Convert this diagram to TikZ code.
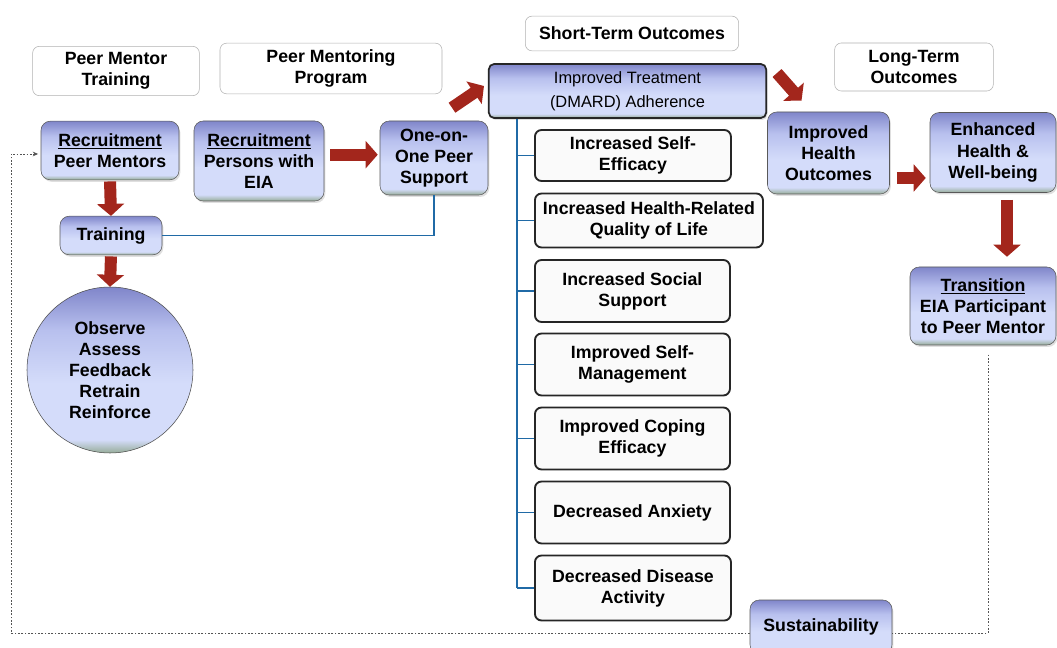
\documentclass[tikz,border=0pt]{standalone}
\usepackage{fontspec}
\setmainfont{Liberation Sans}
\usetikzlibrary{arrows.meta,shadows}

\definecolor{arrowred}{RGB}{163,38,28}
\definecolor{boxtop}{RGB}{128,134,202}
\definecolor{boxmid}{RGB}{184,192,238}
\definecolor{boxlight}{RGB}{212,220,250}
\definecolor{boxbot}{RGB}{150,172,152}
\definecolor{tieblue}{RGB}{32,106,166}
\pgfdeclareverticalshading{boxshade}{100bp}{color(0bp)=(boxbot); color(25bp)=(boxbot); color(29bp)=(boxlight); color(46bp)=(boxlight); color(62bp)=(boxmid); color(75bp)=(boxtop); color(100bp)=(boxtop)}

\newcommand{\boxfont}{\fontsize{13.3}{15.8}\selectfont\bfseries}

\tikzset{
  hdr/.style={draw=gray!60, rounded corners=5pt, fill=white, align=center, font=\boxfont, inner sep=1pt},
  shadebox/.style={draw=gray!70!black, rounded corners=7pt, shading=boxshade, align=center, font=\boxfont, inner sep=1pt,
    drop shadow={opacity=0.25,shadow xshift=1pt,shadow yshift=-1.5pt}},
  outbox/.style={draw=black!85, line width=1.4pt, rounded corners=5pt, fill=gray!4, align=center, font=\boxfont, inner sep=1pt},
  bigarrow/.style={draw=arrowred, line width=9pt, -{Triangle[length=9pt,width=20pt]}},
  tieline/.style={draw=tieblue, line width=1.2pt},
  returnline/.style={draw=gray!65!black, line width=0.6pt, dash pattern=on 1.2pt off 1.3pt},
}

\begin{document}
\begin{tikzpicture}[x=0.75pt,y=-0.75pt]
\clip (0,0) rectangle (1057,648);
\fill[white] (0,0) rectangle (1057,648);

% column headings
\node[hdr, minimum width=125pt, minimum height=37pt] (hdrTrain) at (116,71) {Peer Mentor\\Training};
\node[hdr, minimum width=166.5pt, minimum height=38pt] (hdrProg) at (331,68.5) {Peer Mentoring\\Program};
\node[hdr, minimum width=160pt, minimum height=26pt] (hdrShort) at (632,33.5) {Short-Term Outcomes};
\node[hdr, minimum width=119pt, minimum height=36pt] (hdrLong) at (914,67) {Long-Term\\Outcomes};

% training column
\node[shadebox, minimum width=103.5pt, minimum height=44pt] (RecMentor) at (110,150.5) {\underline{Recruitment}\\Peer Mentors};
\node[shadebox, minimum width=76.5pt, minimum height=29pt] (Train) at (111,235.5) {Training};
\node[circle, draw=gray!60!black, shading=boxshade, minimum size=124.5pt, align=center, font=\boxfont, inner sep=0pt] (Cycle) at (110,370) {Observe\\Assess\\Feedback\\Retrain\\Reinforce};

% program column
\node[shadebox, minimum width=97.5pt, minimum height=60pt] (RecPerson) at (259,161) {\underline{Recruitment}\\Persons with\\EIA};
\node[shadebox, minimum width=81pt, minimum height=55.5pt] (OnePeer) at (434,158) {One-on-\\One Peer\\Support};
\draw[tieline] (Train.east) -- (Train.east -| OnePeer.south) -- (OnePeer.south);

% short-term outcomes
\node[shadebox, draw=black!85, line width=1.3pt, rounded corners=4pt, minimum width=208pt, minimum height=40.5pt,
  font=\fontsize{12.3}{18}\selectfont] (Adher) at (627.5,91) {Improved Treatment\\(DMARD) Adherence};
\foreach \n/\cy/\w/\h/\txt in {1/155.5/196/51/{Increased Self-\\Efficacy},
  2/220.5/228/54/{Increased Health-Related\\Quality of Life},
  3/291/195/62/{Increased Social\\Support},
  4/364.5/195/62/{Improved Self-\\Management},
  5/438.5/195/62/{Improved Coping\\Efficacy},
  6/512.5/195/62/{Decreased Anxiety},
  7/588/196/65/{Decreased Disease\\Activity}}
{
  \coordinate (tie\n) at (517,\cy);
  \node[outbox, anchor=west, minimum width=\w*0.75pt, minimum height=\h*0.75pt] (Outc\n) at (534,\cy) {\txt};
  \draw[tieline] (tie\n) -- (Outc\n.west);
}
\draw[tieline] (Adher.south -| tie1) -- (tie7);

% long-term outcomes
\node[shadebox, minimum width=91.5pt, minimum height=61.5pt] (Health) at (828.5,153) {Improved\\Health\\Outcomes};
\node[shadebox, minimum width=94.5pt, minimum height=60pt] (Wellbeing) at (993,152.5) {Enhanced\\Health \&\\Well-being};
\node[shadebox, minimum width=109.5pt, minimum height=58.5pt] (Transit) at (983,306) {\underline{Transition}\\EIA Participant\\to Peer Mentor};
\node[shadebox, minimum width=106.5pt, minimum height=40.5pt] (Sustain) at (821,627) {Sustainability};

% block arrows
\draw[bigarrow, shorten <=1pt] (RecMentor.south) -- (Train.north);
\draw[bigarrow, shorten <=1pt] (Train.south) -- (Cycle.north);
\draw[bigarrow, shorten <=4.5pt, shorten >=1.5pt] ([yshift=2.5pt]RecPerson.east |- OnePeer.west) -- ([yshift=2.5pt]OnePeer.west);
\draw[bigarrow] ([shift={(18,-13)}]OnePeer.north) -- ([shift={(-4,-5)}]Adher.west);
\draw[bigarrow] ([shift={(10,-18)}]Adher.east) -- ([shift={(-27,-11)}]Health.north);
\draw[bigarrow] ([shift={(7,25)}]Health.east) -- ([shift={(-4,25.5)}]Wellbeing.west);
\draw[bigarrow] ([shift={(14,7)}]Wellbeing.south) -- ([shift={(24,-10)}]Transit.north);

% return loop
\coordinate (loopBR) at (988,633);
\coordinate (loopBL) at (11,633);
\coordinate (loopTL) at (11,154);
\draw[returnline] ([yshift=-7pt]Transit.south -| loopBR) -- (loopBR) -- (Sustain.east |- loopBR);
\draw[returnline, -{Stealth[length=4pt,width=3.5pt]}] (Sustain.west |- loopBL) -- (loopBL) -- (loopTL) -- ([xshift=-2pt]RecMentor.west |- loopTL);
\end{tikzpicture}
\end{document}
